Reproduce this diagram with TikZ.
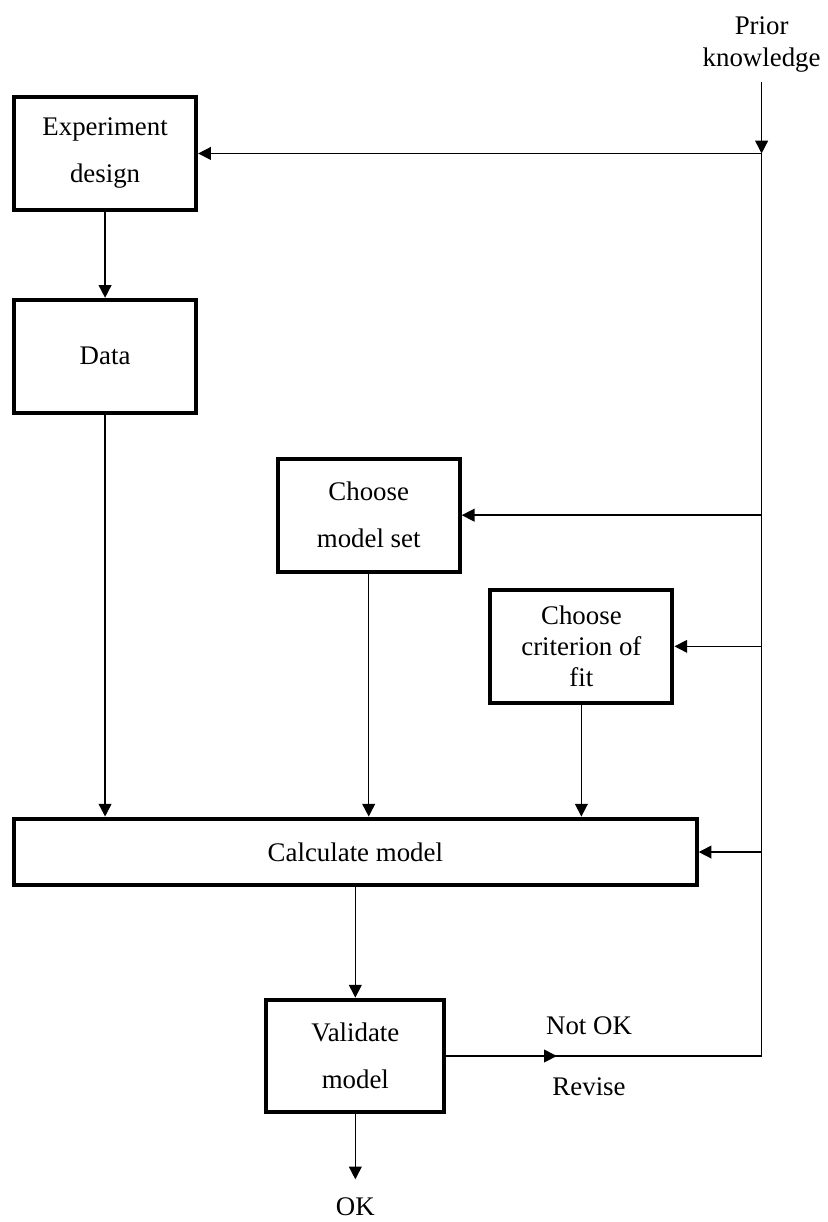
\documentclass[tikz,border=0pt]{standalone}
\usepackage{fontspec}
\setmainfont{Liberation Serif}
\usetikzlibrary{positioning, arrows.meta, decorations.markings}

\begin{document}
\begin{tikzpicture}[
  font=\fontsize{12}{14}\selectfont, line width=0.7pt,
  block/.style={rectangle, draw, line width=1.8pt, minimum width=2.86cm, minimum height=1.77cm, align=center, font=\fontsize{12}{21}\selectfont},
  arr/.style={-{Triangle[length=0.2cm, width=0.2cm]}}]

\useasboundingbox (0,0) rectangle (13.0,-19.19);

% Process boxes
\node[block] (exp) at (1.65,-2.41) {Experiment\\design};
\node[block, below=1.35cm of exp] (data) {Data};
\node[block] (modelset) at (5.79,-8.09) {Choose\\model set};
\node[block, font=\fontsize{12}{14}\selectfont] (crit) at (9.13,-10.15) {Choose\\criterion of\\fit};
\node[block, minimum width=10.72cm, minimum height=1.05cm] (calc) at (5.58,-13.38) {Calculate model};
\node[block, minimum width=2.80cm, below=1.73cm of calc] (valid) {Validate\\model};

% Plain labels
\node[anchor=south, align=center, inner sep=0.15cm] (prior) at (11.96,-1.29) {Prior\\knowledge};
\node[below=1.02cm of valid, inner ysep=0.28cm] (ok) {OK};
\node (notok) at (9.25,-16.11) {Not OK};
\node (revise) at (9.25,-17.07) {Revise};
\coordinate (loop) at (prior.south |- valid.east);

% Main flow
\draw[arr] (exp) -- (data);
\draw[arr] (data) -- (data |- calc.north);
\draw[arr] (modelset) -- (modelset |- calc.north);
\draw[arr] (crit) -- (crit |- calc.north);
\draw[arr] (calc) -- (valid);
\draw[arr] (valid) -- (ok);

% Prior knowledge and revision loop
\draw[arr] (prior) -- (prior.south |- exp.east);
\draw (prior.south |- exp.east) -- (loop);
\draw[arr] (prior.south |- exp.east) -- (exp);
\draw[arr] (prior.south |- modelset.east) -- (modelset);
\draw[arr] (prior.south |- crit.east) -- (crit);
\draw[arr] (prior.south |- calc.east) -- (calc);
\draw[postaction={decorate}, decoration={markings, mark=at position 0.35 with {\arrow{Triangle[length=0.2cm, width=0.2cm]}}}] (valid) -- (loop);

\end{tikzpicture}
\end{document}
